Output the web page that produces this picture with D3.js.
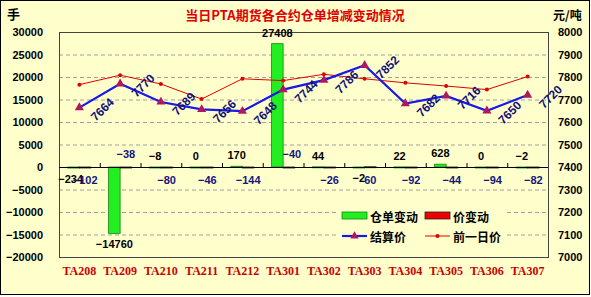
<!DOCTYPE html>
<html lang="zh">
<head>
  <meta charset="UTF-8">
  <title>当日PTA期货各合约仓单增减变动情况</title>
  <script src="https://d3js.org/d3.v7.min.js"></script>
  <style>
    body { margin: 0; background: #fff; }
    .num { font-family: "Liberation Sans", Arial, sans-serif; font-weight: bold; }
    .cat { font-family: "Liberation Serif", "Times New Roman", serif; font-weight: bold; }
    .cjk { font-family: "Noto Sans CJK SC", sans-serif; font-weight: bold; }
  </style>
</head>
<body>
  <div id="chart"></div>
  <script>
    // contracts on the x axis
    const contracts = ["TA208", "TA209", "TA210", "TA211", "TA212", "TA301",
                       "TA302", "TA303", "TA304", "TA305", "TA306", "TA307"];
    // 仓单变动 (hands, left axis)
    const stockChange = [-234, -14760, -8, 0, 170, 27408, 44, -2, 22, 628, 0, -2];
    // 价变动 (yuan/ton, also drawn as bars on the left axis)
    const priceChange = [-102, -38, -80, -46, -144, -40, -26, 60, -92, -44, -94, -82];
    // 结算价 and 前一日价 (right axis)
    const settlePrice = [7664, 7770, 7689, 7656, 7648, 7744, 7786, 7852, 7682, 7716, 7650, 7720];
    const prevPrice = [7766, 7808, 7769, 7702, 7792, 7784, 7812, 7792, 7774, 7760, 7744, 7802];
    // tick labels
    const leftTicks = [30000, 25000, 20000, 15000, 10000, 5000, 0, -5000, -10000, -15000, -20000];
    const rightTicks = [8000, 7900, 7800, 7700, 7600, 7500, 7400, 7300, 7200, 7100, 7000];

    // where the original put the bar labels (above / below the bar)
    const stockLabelSide = ["below", "below", "above", "above", "above", "above",
                            "above", "below", "above", "above", "above", "above"];
    const priceLabelSide = ["below", "above", "below", "below", "below", "above",
                            "below", "below", "below", "below", "below", "below"];

    const width = 591, height = 297;
    const plot = { left: 59, right: 548, top: 32, bottom: 257 };

    const svg = d3.select("#chart").append("svg")
      .attr("width", width)
      .attr("height", height);

    // chart background and frame
    svg.append("rect")
      .attr("x", 0.5).attr("y", 0.5)
      .attr("width", 589).attr("height", 294)
      .attr("fill", "#ffffcc")
      .attr("stroke", "#000");

    const x = d3.scaleBand().domain(contracts).range([plot.left, plot.right]);
    const xSub = d3.scaleBand().domain(["stock", "price"])
      .range([0, x.bandwidth()]).paddingOuter(0.77);
    const yL = d3.scaleLinear().domain([-20000, 30000]).range([plot.bottom, plot.top]);
    const yR = d3.scaleLinear().domain([7000, 8000]).range([plot.bottom, plot.top]);
    const fmt = d3.format("d");

    // dashed grid
    svg.append("g")
      .selectAll("line")
      .data(leftTicks.filter(d => d !== 30000 && d !== -20000 && d !== 0))
      .join("line")
      .attr("x1", plot.left).attr("x2", plot.right)
      .attr("y1", d => yL(d) + 0.5).attr("y2", d => yL(d) + 0.5)
      .attr("stroke", "#a0a0a0")
      .attr("stroke-dasharray", "4,3");

    // plot frame
    svg.append("rect")
      .attr("x", plot.left + 0.5).attr("y", plot.top + 0.5)
      .attr("width", plot.right - plot.left).attr("height", plot.bottom - plot.top)
      .attr("fill", "none")
      .attr("stroke", "#444");

    // bars
    const groups = svg.append("g").selectAll("g")
      .data(contracts)
      .join("g")
      .attr("transform", d => `translate(${x(d)},0)`);

    groups.append("rect")
      .attr("x", xSub("stock"))
      .attr("width", xSub.bandwidth())
      .attr("y", (d, i) => yL(Math.max(0, stockChange[i])))
      .attr("height", (d, i) => Math.max(1, Math.abs(yL(stockChange[i]) - yL(0))))
      .attr("fill", "#22ee22")
      .attr("stroke", "#118811")
      .attr("stroke-width", 0.8);

    groups.append("rect")
      .attr("x", xSub("price"))
      .attr("width", xSub.bandwidth())
      .attr("y", (d, i) => yL(Math.max(0, priceChange[i])))
      .attr("height", (d, i) => Math.max(1, Math.abs(yL(priceChange[i]) - yL(0))))
      .attr("fill", "#ee0000")
      .attr("stroke", "#222")
      .attr("stroke-width", 0.8);

    // category axis on the zero line
    svg.append("line")
      .attr("x1", plot.left).attr("x2", plot.right)
      .attr("y1", yL(0) + 0.5).attr("y2", yL(0) + 0.5)
      .attr("stroke", "#000");
    svg.append("g").selectAll("line")
      .data(contracts.slice(1))
      .join("line")
      .attr("x1", d => x(d) + 0.5).attr("x2", d => x(d) + 0.5)
      .attr("y1", yL(0)).attr("y2", yL(0) - 4)
      .attr("stroke", "#000");

    // lines
    const priceLine = d3.line()
      .x((d, i) => x(contracts[i]) + x.bandwidth() / 2)
      .y(d => yR(d));

    svg.append("path")
      .datum(prevPrice)
      .attr("d", priceLine)
      .attr("fill", "none")
      .attr("stroke", "#e00000")
      .attr("stroke-width", 1);

    svg.append("g").selectAll("circle")
      .data(prevPrice)
      .join("circle")
      .attr("cx", (d, i) => x(contracts[i]) + x.bandwidth() / 2)
      .attr("cy", d => yR(d))
      .attr("r", 2)
      .attr("fill", "#e00000");

    svg.append("path")
      .datum(settlePrice)
      .attr("d", priceLine)
      .attr("fill", "none")
      .attr("stroke", "#1818e8")
      .attr("stroke-width", 2.2);

    svg.append("g").selectAll("path")
      .data(settlePrice)
      .join("path")
      .attr("d", d3.symbol(d3.symbolTriangle, 36))
      .attr("transform", (d, i) => `translate(${x(contracts[i]) + x.bandwidth() / 2},${yR(d)})`)
      .attr("fill", "#b0185e");

    // settlement price labels, tilted
    svg.append("g").selectAll("text")
      .data(settlePrice)
      .join("text")
      .attr("class", "num")
      .attr("transform", (d, i) =>
        `translate(${x(contracts[i]) + x.bandwidth() / 2 + 23},${yR(d) + 2}) rotate(-45)`)
      .attr("text-anchor", "middle")
      .attr("dominant-baseline", "central")
      .attr("font-size", 12)
      .attr("fill", "#12127a")
      .text(d => d);

    // stock change labels
    svg.append("g").selectAll("text")
      .data(stockChange)
      .join("text")
      .attr("class", "num")
      .attr("x", (d, i) => x(contracts[i]) + xSub("stock") + xSub.bandwidth() / 2 - (i === 0 ? 3 : 0))
      .attr("y", (d, i) => stockLabelSide[i] === "above"
        ? yL(Math.max(0, d)) - 7
        : yL(Math.min(0, d)) + 15)
      .attr("text-anchor", "middle")
      .attr("font-size", 11)
      .attr("fill", "#000")
      .text(d => fmt(d));

    // price change labels
    svg.append("g").selectAll("text")
      .data(priceChange)
      .join("text")
      .attr("class", "num")
      .attr("x", (d, i) => x(contracts[i]) + xSub("price") + xSub.bandwidth() / 2 + (i === 5 ? 3 : 0))
      .attr("y", (d, i) => priceLabelSide[i] === "above" ? yL(0) - 9 : yL(0) + 17)
      .attr("text-anchor", "middle")
      .attr("font-size", 11)
      .attr("fill", "#16167e")
      .text(d => fmt(d));

    // axes
    const axisFont = g => g.selectAll("text")
      .attr("class", "num")
      .attr("font-size", 11)
      .attr("fill", "#000");

    svg.append("g")
      .attr("transform", `translate(${plot.left},0)`)
      .call(d3.axisLeft(yL).tickValues(leftTicks).tickFormat(fmt).tickSize(0).tickPadding(16))
      .call(g => g.select(".domain").remove())
      .call(axisFont);

    svg.append("g")
      .attr("transform", `translate(${plot.right},0)`)
      .call(d3.axisRight(yR).tickValues(rightTicks).tickFormat(fmt).tickSize(0).tickPadding(10))
      .call(g => g.select(".domain").remove())
      .call(axisFont);

    svg.append("g")
      .attr("transform", `translate(0,${plot.bottom})`)
      .call(d3.axisBottom(x).tickSize(0).tickPadding(9))
      .call(g => g.select(".domain").remove())
      .call(g => g.selectAll("text")
        .attr("class", "cat")
        .attr("font-size", 12)
        .attr("fill", "#cc0000"));

    // title and units
    svg.append("text")
      .attr("class", "cjk")
      .attr("x", 295).attr("y", 20)
      .attr("text-anchor", "middle")
      .attr("font-size", 13)
      .attr("fill", "#e00000")
      .text("当日PTA期货各合约仓单增减变动情况");

    svg.append("text")
      .attr("class", "cjk")
      .attr("x", 7).attr("y", 19)
      .attr("font-size", 13)
      .attr("fill", "#000")
      .text("手");

    svg.append("text")
      .attr("class", "cjk")
      .attr("x", 553).attr("y", 20)
      .attr("font-size", 12)
      .attr("fill", "#000")
      .text("元/吨");

    // legend
    const legend = svg.append("g");
    legend.append("rect")
      .attr("x", 338).attr("y", 204)
      .attr("width", 168).attr("height", 42)
      .attr("fill", "#ffffcc");

    const legendItems = [
      { name: "仓单变动", kind: "bar", color: "#22ee22", edge: "#118811", col: 0, row: 0 },
      { name: "价变动", kind: "bar", color: "#ee0000", edge: "#222", col: 1, row: 0 },
      { name: "结算价", kind: "blue", color: "#1818e8", col: 0, row: 1 },
      { name: "前一日价", kind: "red", color: "#e00000", col: 1, row: 1 }
    ];

    const li = legend.selectAll("g.item")
      .data(legendItems)
      .join("g")
      .attr("class", "item")
      .attr("transform", d => `translate(${342 + d.col * 83},${216 + d.row * 20})`);

    li.filter(d => d.kind === "bar").append("rect")
      .attr("x", 0).attr("y", -4)
      .attr("width", 25).attr("height", 7)
      .attr("fill", d => d.color)
      .attr("stroke", d => d.edge)
      .attr("stroke-width", 0.8);

    li.filter(d => d.kind !== "bar").append("line")
      .attr("x1", 0).attr("x2", 25)
      .attr("y1", 0).attr("y2", 0)
      .attr("stroke", d => d.color)
      .attr("stroke-width", d => d.kind === "blue" ? 2.2 : 1);

    li.filter(d => d.kind === "blue").append("path")
      .attr("d", d3.symbol(d3.symbolTriangle, 30))
      .attr("transform", "translate(12.5,0)")
      .attr("fill", "#b0185e");

    li.filter(d => d.kind === "red").append("circle")
      .attr("cx", 12.5).attr("cy", 0).attr("r", 2)
      .attr("fill", "#e00000");

    li.append("text")
      .attr("class", "cjk")
      .attr("x", 28).attr("y", 0)
      .attr("dominant-baseline", "central")
      .attr("font-size", 12)
      .attr("fill", "#000")
      .text(d => d.name);
  </script>
</body>
</html>
